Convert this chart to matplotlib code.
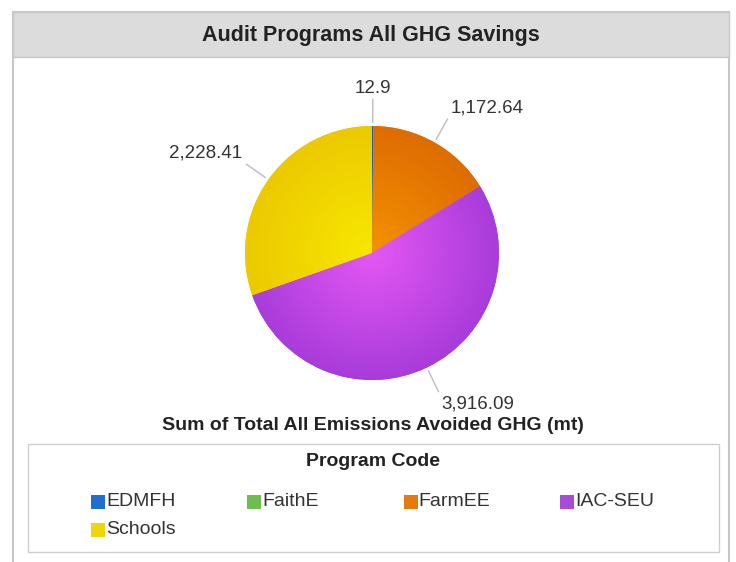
import matplotlib as mpl
mpl.use('Agg')
import matplotlib.pyplot as plt
from matplotlib.patches import Rectangle
from matplotlib.colors import to_rgb
import numpy as np

plt.rcParams['font.family'] = ['Liberation Sans', 'DejaVu Sans']

# Data
programs = ['EDMFH', 'FaithE', 'FarmEE', 'IAC-SEU', 'Schools']
ghg_saved = [12.9, 0.0, 1172.64, 3916.09, 2228.41]

title = 'Audit Programs All GHG Savings'
subtitle = 'Sum of Total All Emissions Avoided GHG (mt)'
legend_title = 'Program Code'

# Colours (flat for legend, inner/outer for the shaded wedges)
flat_cols = ['#1f6fd1', '#6cbf4c', '#e57a10', '#a84bd9', '#efd60a']
inner_cols = ['#2a7de0', '#7acb58', '#f59200', '#e457f4', '#f8e800']
outer_cols = ['#1a62bf', '#5fb040', '#de6c00', '#a83cda', '#ecc900']

W, H = 736, 562
fig = plt.figure(figsize=(W / 100, H / 100), dpi=100)

# Background axes in pixel coords (y down)
bg = fig.add_axes([0, 0, 1, 1])
bg.set_xlim(0, W)
bg.set_ylim(H, 0)
bg.axis('off')

bg.add_patch(Rectangle((13, 12), 716, 570, facecolor='white', edgecolor='#c8c8c8', lw=1.5))
bg.add_patch(Rectangle((13, 12), 716, 45, facecolor='#dcdcdc', edgecolor='#c8c8c8', lw=1.0))
bg.text(371, 35, title, ha='center', va='center', fontsize=15.5, fontweight='bold', color='#222222')
bg.text(373, 426, subtitle, ha='center', va='center', fontsize=14, fontweight='bold', color='#222222')

# Legend box (manual, row-major like the original)
bg.add_patch(Rectangle((28, 444), 691, 108, facecolor='white', edgecolor='#cfcfcf', lw=1.0))
bg.text(373, 462, legend_title, ha='center', va='center', fontsize=14, fontweight='bold', color='#222222')
for i, name in enumerate(programs):
    col, row = i % 4, i // 4
    x0 = 91 + col * 156.3
    yc = 502 + row * 28
    bg.add_patch(Rectangle((x0, yc - 7), 14, 14, facecolor=flat_cols[i], edgecolor='none'))
    bg.text(x0 + 15, yc, name, ha='left', va='center', fontsize=14, color='#333333')

# Pie
cx, cy, r = 372, 253, 127
ax = fig.add_axes([(cx - r) / W, (H - cy - r) / H, 2 * r / W, 2 * r / H])
wedges, _ = ax.pie(ghg_saved, colors=flat_cols, startangle=90, counterclock=False,
                   radius=1, wedgeprops=dict(edgecolor='none'))

# radial shading clipped to each wedge
yy, xx = np.mgrid[-1:1:500j, -1:1:500j]
rr = np.clip(np.hypot(xx, yy), 0, 1)[..., None]
for w, ci, co, v in zip(wedges, inner_cols, outer_cols, ghg_saved):
    if v <= 0:
        continue
    img = np.array(to_rgb(ci)) * (1 - rr) + np.array(to_rgb(co)) * rr
    im = ax.imshow(img, extent=(-1, 1, -1, 1), origin='lower', zorder=2, interpolation='bilinear')
    im.set_clip_path(w)

# value labels with leader lines
for w, v in zip(wedges, ghg_saved):
    if v <= 0:
        continue
    th = np.deg2rad((w.theta1 + w.theta2) / 2)
    c, s = np.cos(th), np.sin(th)
    x0, y0 = 1.03 * c, 1.03 * s
    x1, y1 = 1.21 * c, 1.21 * s
    ax.plot([x0, x1], [y0, y1], color='#bdbdbd', lw=1.0, clip_on=False, zorder=3)
    if abs(c) < 0.15:
        ha, dx = 'center', 0
    elif c > 0:
        ha, dx = 'left', 2
    else:
        ha, dx = 'right', -3
    va, dy = ('bottom', 2) if s > 0 else ('top', -3)
    txt = f'{v:,.2f}'.rstrip('0').rstrip('.')
    ax.annotate(txt, xy=(x1, y1), xytext=(dx, dy), textcoords='offset points',
                ha=ha, va=va, fontsize=13.5, color='#333333', annotation_clip=False)

ax.set_xlim(-1, 1)
ax.set_ylim(-1, 1)
ax.set_aspect('equal')
ax.axis('off')

fig.savefig('out.png', dpi=100)
